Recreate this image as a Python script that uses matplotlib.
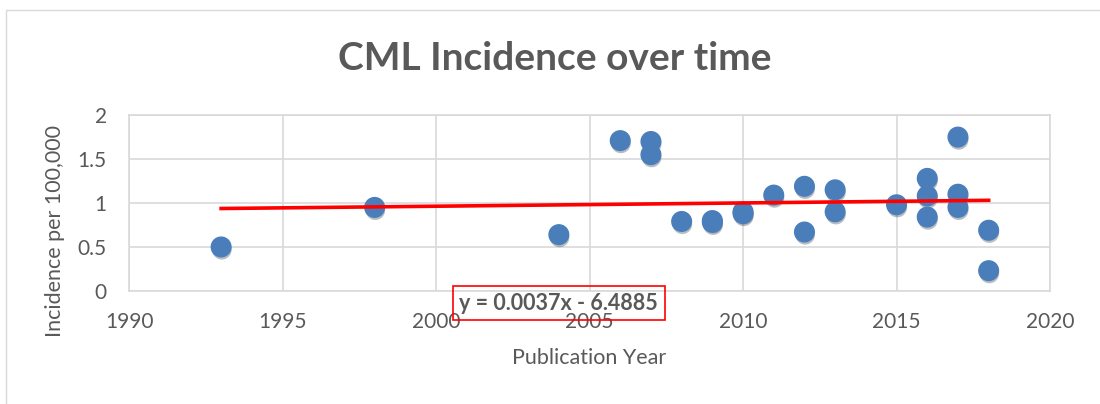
import numpy as np
import matplotlib
matplotlib.use("Agg")
import matplotlib.pyplot as plt
import matplotlib.patheffects as pe
from matplotlib.patches import Rectangle

# Data
years = [1993, 1998, 2004, 2006, 2007, 2007, 2008, 2009, 2009, 2010, 2010,
         2011, 2012, 2012, 2013, 2013, 2015, 2016, 2016, 2016,
         2017, 2017, 2017, 2018, 2018]
incidence = [0.50, 0.95, 0.64, 1.71, 1.70, 1.55, 0.79, 0.80, 0.78, 0.90, 0.88,
             1.09, 1.19, 0.67, 1.15, 0.90, 0.98, 1.28, 1.08, 0.84,
             1.75, 1.10, 0.95, 0.69, 0.23]
x_ticks = [1990, 1995, 2000, 2005, 2010, 2015, 2020]
y_ticks = [0, 0.5, 1, 1.5, 2]
y_tick_labels = ["0", "0.5", "1", "1.5", "2"]
equation_text = "y = 0.0037x - 6.4885"

GREY = "#595959"
GRID = "#d9d9d9"
BLUE = "#4a7ebb"

plt.rcParams["font.family"] = ["Lato", "DejaVu Sans"]

fig = plt.figure(figsize=(11, 4.04), dpi=100)
ax = fig.add_axes([0.1173, 0.280, 0.8373, 0.435])

# outer chart border
fig.patches.append(Rectangle((6 / 1100, -0.1), 1.2, (404 - 10) / 404 + 0.1,
                             transform=fig.transFigure, fill=False,
                             edgecolor="#d9d9d9", linewidth=1))

ax.scatter(years, incidence, s=200, color=BLUE, zorder=3,
           path_effects=[pe.SimplePatchShadow(offset=(0.5, -2), alpha=0.3),
                         pe.Normal()])

# linear trendline
slope, intercept = np.polyfit(years, incidence, 1)
xs = np.array([min(years), max(years)])
ax.plot(xs, slope * xs + intercept, color="#ff0000", linewidth=2.6, zorder=4)

ax.set_xlim(1990, 2020)
ax.set_ylim(0, 2)
ax.set_xticks(x_ticks)
ax.set_yticks(y_ticks)
ax.set_yticklabels(y_tick_labels)
ax.grid(True, color=GRID, linewidth=1.2)
ax.set_axisbelow(True)
for s in ax.spines.values():
    s.set_color(GRID)
    s.set_linewidth(1.2)
ax.tick_params(length=0, labelsize=15, labelcolor=GREY)
ax.tick_params(axis="x", pad=15)
ax.tick_params(axis="y", pad=16)

ax.set_xlabel("Publication Year", fontsize=15.5, color=GREY)
ax.xaxis.set_label_coords(0.5, -0.38)
ax.xaxis.label.set_va("center")
ax.set_ylabel("Incidence per 100,000", fontsize=15.5, color=GREY)
ax.yaxis.set_label_coords(-0.080, 0.338)
ax.yaxis.label.set_va("center")

fig.text(0.504, 0.856, "CML Incidence over time", ha="center", va="center",
         fontsize=28, fontweight="bold", color=GREY)

ax.text(2004.0, -0.14, equation_text, ha="center", va="center", fontsize=15.5,
        fontweight="bold", color=GREY, zorder=5, clip_on=False,
        bbox=dict(boxstyle="square,pad=0.3", facecolor="none",
                  edgecolor="#ff0000", linewidth=1.2))

fig.savefig("out.png", dpi=100)
